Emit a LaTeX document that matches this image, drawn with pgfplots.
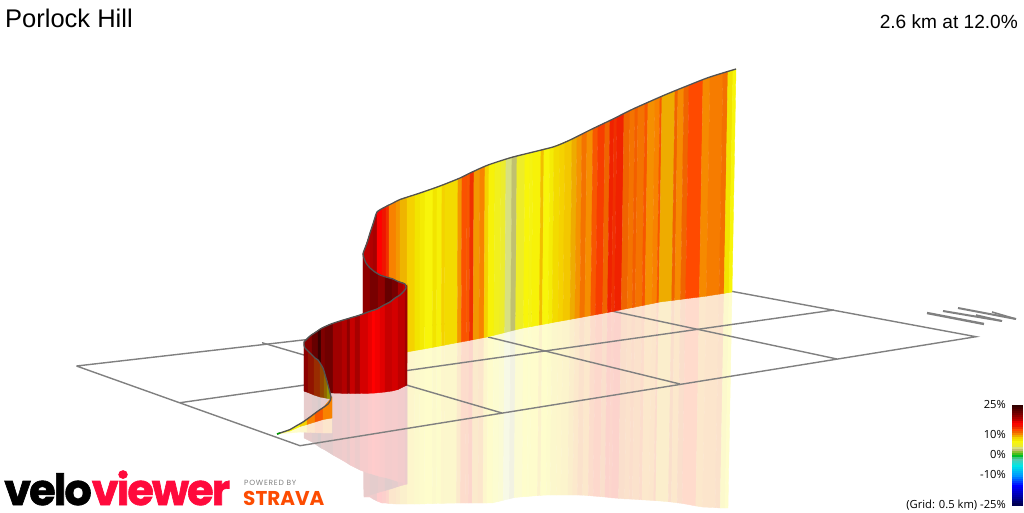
\documentclass[border=0pt]{standalone}
\usepackage{fontspec}
\setmainfont{Liberation Sans}
\newfontfamily\legfont{Open Sans}
\newfontfamily\logofont{Poppins}
\usepackage{pgfplots}
\usepackage{pgfplotstable}
\pgfplotsset{compat=1.18}
\pgfplotsset{
 colormap={wall}{rgb255(0pt)=(0,0,64); rgb255(10pt)=(0,0,170); rgb255(20pt)=(0,0,255); rgb255(30pt)=(0,150,255); rgb255(40pt)=(0,230,230); rgb255(47pt)=(90,200,170); rgb255(50pt)=(0,190,40); rgb255(53pt)=(110,190,20); rgb255(56pt)=(192,192,112); rgb255(58pt)=(216,224,128); rgb255(60pt)=(235,235,50); rgb255(64pt)=(248,245,10); rgb255(66pt)=(242,228,0); rgb255(68pt)=(245,210,0); rgb255(70pt)=(238,172,0); rgb255(72pt)=(248,130,0); rgb255(74pt)=(240,100,0); rgb255(76pt)=(255,74,0); rgb255(78pt)=(240,48,0); rgb255(80pt)=(240,20,0); rgb255(83pt)=(255,0,0); rgb255(86pt)=(190,0,0); rgb255(92pt)=(120,0,0); rgb255(100pt)=(50,0,0)},
 colormap={refl}{rgb255(0pt)=(204,204,217); rgb255(10pt)=(204,204,238); rgb255(20pt)=(204,204,255); rgb255(30pt)=(204,234,255); rgb255(40pt)=(204,250,250); rgb255(47pt)=(222,244,238); rgb255(50pt)=(204,242,212); rgb255(53pt)=(226,242,208); rgb255(56pt)=(242,242,226); rgb255(58pt)=(247,249,230); rgb255(60pt)=(251,251,214); rgb255(64pt)=(254,253,204); rgb255(66pt)=(252,249,204); rgb255(68pt)=(253,246,204); rgb255(70pt)=(251,238,204); rgb255(72pt)=(252,230,204); rgb255(74pt)=(250,223,204); rgb255(76pt)=(255,219,204); rgb255(78pt)=(252,214,204); rgb255(80pt)=(252,208,204); rgb255(83pt)=(255,204,204); rgb255(86pt)=(242,204,204); rgb255(92pt)=(228,204,204); rgb255(100pt)=(214,204,204)},
 colormap={dark}{rgb255(0pt)=(0,0,0); rgb255(60pt)=(141,141,30); rgb255(64pt)=(149,147,0); rgb255(68pt)=(147,126,0); rgb255(72pt)=(144,77,0); rgb255(76pt)=(153,44,0); rgb255(80pt)=(144,12,0); rgb255(83pt)=(153,0,0); rgb255(86pt)=(114,0,0); rgb255(100pt)=(30,0,0)},
 stripes/.style={surf, shader=flat corner, mesh/cols=2, point meta=explicit, point meta min=-25, point meta max=25},
 grid line/.style={color=gray, line width=1.4pt, no markers},
}
\pgfplotstableread{
x y rx ry c
363 254 363 360 18
363 360 364 497 18
370 233 370 359 18.5
370 359 370 497 18.5
373 224 373 358 19
373 358 373 499 19
377 212 377 357.5 16.5
377 357.5 377 501 16.5
382 209 382 356.5 15
382 356.5 382 503 15
386 206.5 386 356 14
386 356 386 503 14
389 205 389 355.5 11
389 355.5 389 503.5 11
396 201.5 396 354 10.5
396 354 396 504 10.5
400 199.5 400 353 9.8
400 353 400 504 9.8
407 197 407 352 9
407 352 407 504 9
415 194.5 414.8 350.5 8
414.8 350.5 414.6 504 8
420 193 419.8 349.7 7.6
419.8 349.7 419.6 504 7.6
425 191 424.7 348.8 7
424.7 348.8 424.4 503.8 7
433 188.5 432.6 347.4 8
432.6 347.4 432.2 503.6 8
437 187 436.6 346.6 7.3
436.6 346.6 436.2 503.5 7.3
442 185 441.5 345.7 9
441.5 345.7 441 503.4 9
445 184 444.5 345.1 8.5
444.5 345.1 444 503.3 8.5
458 179 457.3 342.6 10.5
457.3 342.6 456.6 503 10.5
462 177 461.3 341.9 12.7
461.3 341.9 460.6 503 12.7
467 174.5 466.2 341 12.5
466.2 341 465.4 503 12.5
470 173 469.2 340.4 14
469.2 340.4 468.4 503 14
474 171.5 473.1 339.7 10.5
473.1 339.7 472.2 503 10.5
480 168.5 479 338.5 11
479 338.5 478 503 11
485 166.5 484 337.6 9
484 337.6 483 503 9
489 165 487.9 336.8 7.2
487.9 336.8 486.8 503 7.2
495 163 493.9 335.3 6
493.9 335.3 492.8 502.8 6
501 161 499.8 333.8 5.2
499.8 333.8 498.6 501.4 5.2
506 159 504.7 332.6 4
504.7 332.6 503.4 500.2 4
512 157 510.7 331 3
510.7 331 509.4 498.8 3
517 156 515.6 329.8 5.5
515.6 329.8 514.2 497.6 5.5
525 154 523.5 327.9 7
523.5 327.9 522 496.8 7
530 153 528.5 327 6.6
528.5 327 527 496.5 6.6
533 152 531.4 326.5 7.2
531.4 326.5 529.8 496.2 7.2
541 150 539.3 325 9.5
539.3 325 537.6 495.6 9.5
544 149 542.3 324.5 7
542.3 324.5 540.6 495.4 7
550 148 548.2 323.4 7.5
548.2 323.4 546.4 495 7.5
554 146.5 552.2 322.6 8.5
552.2 322.6 550.4 495 8.5
560 144 558.1 321.5 9
558.1 321.5 556.2 495 9
565 142 563 320.7 9.3
563 320.7 561 495 9.3
572 139 570 319.4 10
570 319.4 568 495 10
577 136.5 574.9 318.5 10.6
574.9 318.5 572.8 495 10.6
582 134 579.8 317.6 11.5
579.8 317.6 577.6 495 11.5
587 131.5 584.8 316.7 10.7
584.8 316.7 582.6 495.1 10.7
593 128.5 590.7 315.6 12.5
590.7 315.6 588.4 495.6 12.5
598 126 595.6 314.7 13.5
595.6 314.7 593.2 496 13.5
605 123 602.6 313.4 12
602.6 313.4 600.2 496.6 12
610 120.5 607.5 312.5 14.5
607.5 312.5 605 497 14.5
614 118.5 611.5 311.7 14
611.5 311.7 609 497.4 14
617 117 614.4 311.1 14.5
614.4 311.1 611.8 497.8 14.5
624 113.5 621.3 309.7 12
621.3 309.7 618.6 498.3 12
630 110.5 627.3 308.5 11.5
627.3 308.5 624.6 498.8 11.5
635 108 632.2 307.6 12.2
632.2 307.6 629.4 499 12.2
638 107 635.2 307 11.5
635.2 307 632.4 499.1 11.5
645 104 642.1 305.6 12.5
642.1 305.6 639.2 499.6 12.5
648 102.5 645 305 10.7
645 305 642 499.8 10.7
655 99.5 652 303.6 11
652 303.6 649 500.2 11
660 97 656.9 302.6 12.5
656.9 302.6 653.8 500.5 12.5
662 96 658.9 302.1 10
658.9 302.1 655.8 500.6 10
675 91 671.7 300.5 12
671.7 300.5 668.4 501.7 12
678 90 674.7 300.1 10.8
674.7 300.1 671.4 502 10.8
684 87.5 680.6 299.4 12
680.6 299.4 677.2 502.8 12
689 85.5 685.6 298.7 13
685.6 298.7 682.2 503.4 13
703 80 699.4 297 10.8
699.4 297 695.8 505.9 10.8
710 77 706.3 296.1 11.2
706.3 296.1 702.6 507 11.2
723 73 719.1 294.1 11.6
719.1 294.1 715.2 507.6 11.6
728 71.5 724.1 293.3 8
724.1 293.3 720.2 508 8
733 70 729 292.5 7
729 292.5 725 508 7
736 69 732 292 7
732 292 728 508 7
}\wallE
\pgfplotstableread{
x y rx ry c
363 254 363 360 20
363 360 364 497 20
366 263 366 360 20
366 360 366 496 20
370 268 370 360 21
370 360 370 495 21
378 274 378 361 20
378 361 378 492.5 20
385 277 385 361 22
385 361 385 490.5 22
392 279 392 362 21
392 362 392 488.5 21
398 281.5 398 362 19
398 362 398 486.5 19
403 283 403 363 18
403 363 403 485 18
407 286 407 363 18
407 363 407 484 18
}\wallD
\pgfplotstableread{
x y rx ry c
304 342 304 391 20.3
304 391 304 438 20.3
312 334.5 312 392 22
312 392 312 442 22
318 330.5 318 392.4 24.5
318 392.4 318 446 24.5
321 328.5 321 392.6 20.7
321 392.6 321 448 20.7
325 326.5 325 392.8 21.5
325 392.8 325 450 21.5
333 323.3 333 393 19.3
333 393 333 455 19.3
342 320.4 342 393.3 18.5
342 393.3 342 460 18.5
347 319 347 393.4 20
347 393.4 347 463 20
350 318 350 393.5 17.8
350 393.5 350 465 17.8
355 316.5 355 393.5 19
355 393.5 355 467.5 19
360 315 360 393.5 17.5
360 393.5 360 470 17.5
368 312 368 393.3 17
368 393.3 368 473 17
372 310.7 372 393.2 16.5
372 393.2 372 474 16.5
375 309.7 375 393 16.8
375 393 375 475 16.8
380 307.3 380 392.5 17.2
380 392.5 380 476.5 17.2
385 304.5 385 392 17.8
385 392 385 477.5 17.8
392 300.5 392 391 17.5
392 391 392 479.5 17.5
398 296 398 389.5 18
398 389.5 398 481.5 18
405 290 405 386 19.3
405 386 405 483.5 19.3
407 285 407 385 19.3
407 385 407 484 19.3
}\wallC
\pgfplotstableread{
x y c
304 345 17
304 391 17
308 351 14.5
308 392.5 14.5
314 357 13
314 395 13
320 363 11.5
320 397 11.5
324 372 10
324 397.7 10
327 381 7
327 398.3 7
331 397 7
331 399 7
}\wallB
\pgfplotstableread{
x y rx ry c
277 434 277 434 6
277 434 277 434 6
290 429.5 290 431 7
290 431 290 433 7
300 424 300 426.5 9
300 426.5 300 432 9
307 419 307 424.5 11
307 424.5 307 432.3 11
315 413 315 422 12.5
315 422 315 432.7 12.5
323 408 323 419.5 11
323 419.5 323 433 11
332 397 332 418 11
332 418 332 433 11
}\wallA
\pgfplotstableread{
x y c
1012 405 25
1022 405 25
1012 407 24
1022 407 24
1012 409 23
1022 409 23
1012 411 22
1022 411 22
1012 413 21
1022 413 21
1012 415 20
1022 415 20
1012 417 19
1022 417 19
1012 419 18
1022 419 18
1012 421 17
1022 421 17
1012 423 16
1022 423 16
1012 425 15
1022 425 15
1012 427 14
1022 427 14
1012 429 13
1022 429 13
1012 431 12
1022 431 12
1012 433 11
1022 433 11
1012 435 10
1022 435 10
1012 437 9
1022 437 9
1012 439 8
1022 439 8
1012 441 7
1022 441 7
1012 443 6
1022 443 6
1012 445 5
1022 445 5
1012 447 4
1022 447 4
1012 449 3
1022 449 3
1012 451 2
1022 451 2
1012 453 1
1022 453 1
1012 455 0
1022 455 0
1012 457 -1
1022 457 -1
1012 459 -2
1022 459 -2
1012 461 -3
1022 461 -3
1012 463 -4
1022 463 -4
1012 465 -5
1022 465 -5
1012 467 -6
1022 467 -6
1012 469 -7
1022 469 -7
1012 471 -8
1022 471 -8
1012 473 -9
1022 473 -9
1012 475 -10
1022 475 -10
1012 477 -11
1022 477 -11
1012 479 -12
1022 479 -12
1012 481 -13
1022 481 -13
1012 483 -14
1022 483 -14
1012 485 -15
1022 485 -15
1012 487 -16
1022 487 -16
1012 489 -17
1022 489 -17
1012 491 -18
1022 491 -18
1012 493 -19
1022 493 -19
1012 495 -20
1022 495 -20
1012 497 -21
1022 497 -21
1012 499 -22
1022 499 -22
1012 501 -23
1022 501 -23
1012 503 -24
1022 503 -24
1012 505 -25
1022 505 -25
}\legbar
\begin{document}
\begin{tikzpicture}
\begin{axis}[
  scale only axis, width=1024pt, height=512pt,
  xmin=0, xmax=1024, ymin=0, ymax=512, y dir=reverse,
  axis line style={draw=none}, ticks=none, clip=true]
% reflections
\addplot[stripes, colormap name=refl] table[x=rx,y=ry,meta=c] {\wallE};
\addplot[stripes, colormap name=refl] table[x=rx,y=ry,meta=c] {\wallD};
\addplot[stripes, colormap name=refl] table[x=rx,y=ry,meta=c] {\wallC};
\addplot[stripes, colormap name=refl] table[x=rx,y=ry,meta=c] {\wallA};
% grid
\addplot[grid line] coordinates {(76.5,366) (300,445.7) (976,336.7) (730,291) (76.5,366)};
\addplot[grid line] coordinates {(180,402.7) (834,310)};
\addplot[grid line] coordinates {(262,342.7) (502,413)};
\addplot[grid line] coordinates {(488,337) (680,384)};
\addplot[grid line] coordinates {(611.6,311) (837,359)};
% walls
\addplot[stripes, colormap name=wall] table[x=x,y=y,meta=c] {\wallE};
\addplot[stripes, colormap name=wall] table[x=x,y=y,meta=c] {\wallD};
\addplot[stripes, colormap name=wall] table[x=x,y=y,meta=c] {\wallC};
\addplot[stripes, colormap name=dark] table[x=x,y=y,meta=c] {\wallB};
\addplot[stripes, colormap name=wall] table[x=x,y=y,meta=c] {\wallA};
% route line
\addplot[color=black!68, line width=1.3pt, no markers, line join=round, smooth, tension=0.35] coordinates {
(277,434) (283,432) (290,429.5) (296,426) (303,422) (310,417) (318,411) (324,407) (328,404) (330,401) (331,397)
(328,385) (326,378) (323,368) (318,360) (315,358) (310,353) (305,348) (304,345) (304,342)
(310,336) (316,332) (322,328) (331,324) (340,321) (350,318) (360,315) (368,312) (377,309) (384,305) (390,302) (395,298) (400,295) (404,291) (406,288) (405,284)
(398,281.5) (393,279) (386,277) (380,275) (375,272) (370,268) (366,263) (363,254)
(367,243) (370,233) (373,224) (377,212) (385,207) (393,203) (400,199.5) (420,193) (440,186) (460,178) (470,173) (488,165) (513,157) (553,147) (570,140) (590,130) (613,119) (633,109) (667,94) (707,78) (736,69)};
\addplot[color=green!60!black, line width=1.6pt, no markers] coordinates {(277,434) (280,433)};
% arrows
\addplot[color=gray, line width=2.4pt, no markers] coordinates {(927,313) (984,324)};
\addplot[color=gray, line width=2pt, no markers] coordinates {(943,311) (1002,321)};
\addplot[color=gray, line width=2pt, no markers] coordinates {(958,308) (1016,319)};
\addplot[color=gray, line width=1.6pt, no markers] coordinates {(992,312) (1016,319)};
\addplot[color=gray, line width=1.6pt, no markers] coordinates {(976,315) (1002,321)};
% legend bar
\addplot[stripes, colormap name=wall] table[x=x,y=y,meta=c] {\legbar};
% text
\node[anchor=base west, inner sep=0pt, font=\fontsize{25.5}{25}\selectfont] at (axis cs:5,27) {Porlock Hill};
\node[anchor=base east, inner sep=0pt, font=\fontsize{19.1}{19}\selectfont] at (axis cs:1018,28) {2.6 km at 12.0\%};
\node[anchor=base east, inner sep=0pt, font=\legfont\fontsize{11.2}{12}\selectfont] at (axis cs:1006,408) {25\%};
\node[anchor=base east, inner sep=0pt, font=\legfont\fontsize{11.2}{12}\selectfont] at (axis cs:1006,438) {10\%};
\node[anchor=base east, inner sep=0pt, font=\legfont\fontsize{11.2}{12}\selectfont] at (axis cs:1006,458) {0\%};
\node[anchor=base east, inner sep=0pt, font=\legfont\fontsize{11.2}{12}\selectfont] at (axis cs:1006,478) {-10\%};
\node[anchor=base east, inner sep=0pt, font=\legfont\fontsize{11.2}{12}\selectfont] at (axis cs:1006,508) {(Grid: 0.5 km) -25\%};
% logos
\node[anchor=base west, inner sep=0pt] at (axis cs:4,505) {\logofont\bfseries\fontsize{43}{43}\selectfont\addfontfeatures{LetterSpace=-4.6,FakeBold=1.5}\color{black}velo\color[HTML]{FF0A3C}viewer};
\node[anchor=base west, inner sep=0pt, text=black!50] at (axis cs:244,485) {\logofont\fontsize{7.5}{8}\selectfont\addfontfeatures{LetterSpace=10}POWERED BY};
\node[anchor=base west, inner sep=0pt, text={rgb,255:red,252;green,76;blue,2}] at (axis cs:243,505) {\logofont\bfseries\fontsize{20}{20}\selectfont STRAVA};
\end{axis}
\end{tikzpicture}
\end{document}
